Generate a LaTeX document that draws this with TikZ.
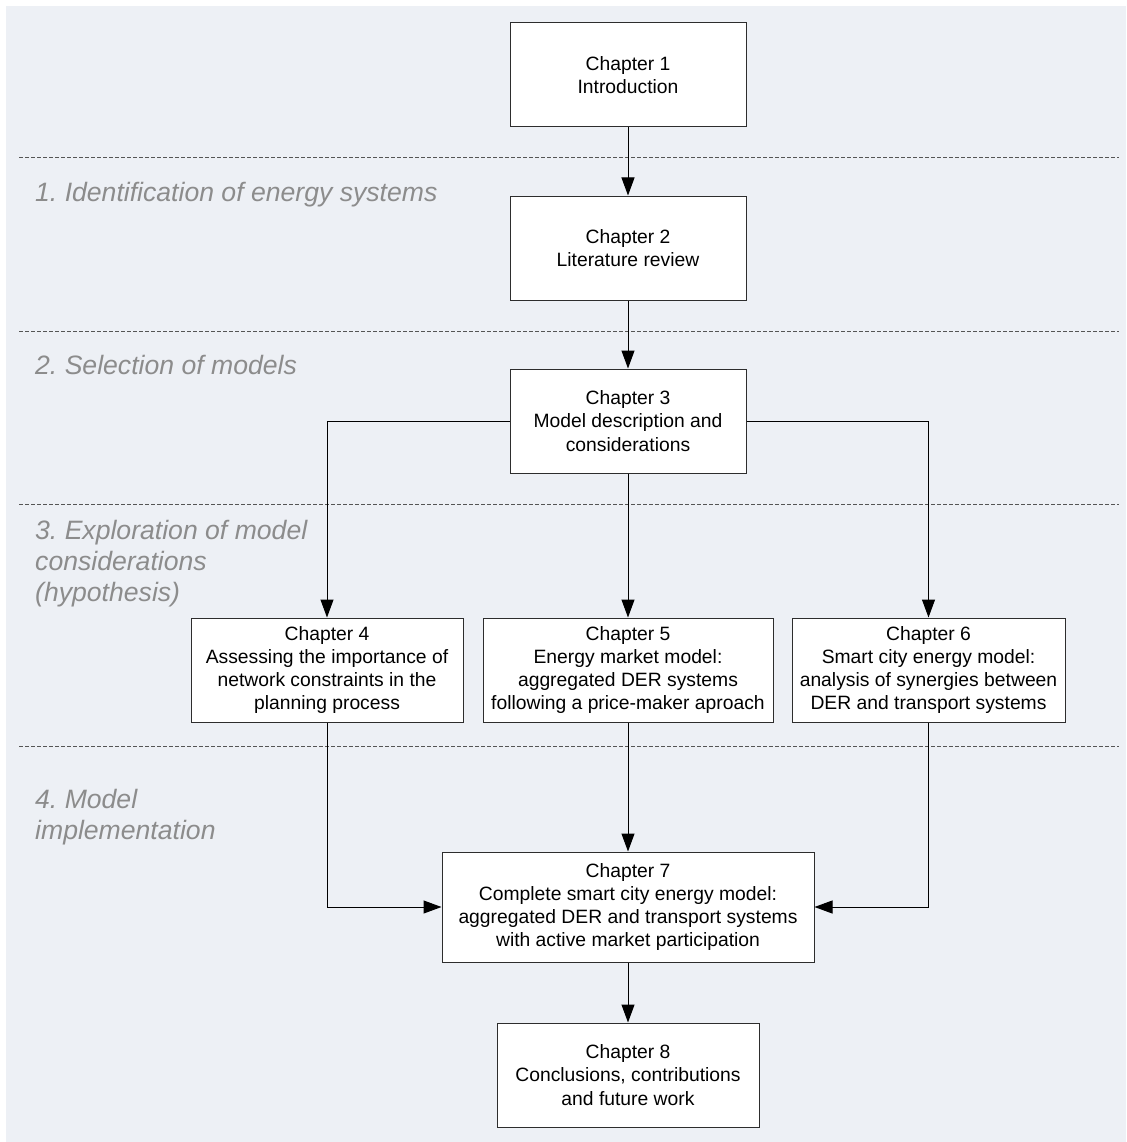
\documentclass[tikz,border=0pt]{standalone}
\usepackage{fontspec}
\setmainfont{Liberation Sans}
\usetikzlibrary{arrows.meta}
\definecolor{bgc}{RGB}{237,240,245}
\definecolor{lblc}{RGB}{140,140,140}
\definecolor{sepc}{RGB}{85,85,85}
\definecolor{edgec}{RGB}{45,45,45}
\frenchspacing
\begin{document}
\begin{tikzpicture}[x=1pt,y=-1pt,
  box/.style={draw=edgec, line width=1pt, fill=white, minimum width=#1, minimum height=104pt,
    inner sep=0pt, align=center, font=\fontsize{19.3}{23.3}\selectfont},
  conn/.style={draw=black, line width=1pt, -{Triangle[length=18pt,width=13pt]}},
  lab/.style={text=lblc, font=\fontsize{26.6}{31}\selectfont\itshape, align=left, inner sep=0pt, anchor=base west},
  sepline/.style={draw=sepc, line width=1pt, dash pattern=on 4pt off 2pt}]
\useasboundingbox (0,0) rectangle (1126,1142);
\fill[bgc] (6,6) rectangle (1126,1142);
% separators
\foreach \yy in {158,331,504,746} {\draw[sepline] (19,\yy) -- (1119,\yy);}
% phase labels (base anchor = baseline of last line)
\node[lab] (l1) at (35,201) {1. Identification of energy systems};
\node[lab] (l2) at (35,374) {2. Selection of models};
\node[lab] (l3) at (35,601) {3. Exploration of model\\considerations\\(hypothesis)};
\node[lab] (l4) at (35,839) {4. Model\\implementation};
% boxes
\node[box=236pt] (b1) at (628,75) {Chapter 1\\Introduction};
\node[box=236pt] (b2) at (628,248) {Chapter 2\\Literature review};
\node[box=236pt] (b3) at (628,421) {Chapter 3\\Model description and\\considerations};
\node[box=272pt] (b4) at (327,670) {Chapter 4\\Assessing the importance of\\network constraints in the\\planning process};
\node[box=290pt] (b5) at (628,670) {Chapter 5\\Energy market model:\\aggregated DER systems\\following a price-maker aproach};
\node[box=273pt] (b6) at (928.5,670) {Chapter 6\\Smart city energy model:\\analysis of synergies between\\DER and transport systems};
\node[box=372pt, minimum height=110pt] (b7) at (628,907) {Chapter 7\\Complete smart city energy model:\\aggregated DER and transport systems\\with active market participation};
\node[box=262pt] (b8) at (628,1075) {Chapter 8\\Conclusions, contributions\\and future work};
% connectors
\draw[conn] (b1) -- (b2);
\draw[conn] (b2) -- (b3);
\draw[conn] (b3.west) -| (b4.north);
\draw[conn] (b3) -- (b5);
\draw[conn] (b3.east) -| (b6.north);
\draw[conn] (b4.south) |- (b7.west);
\draw[conn] (b5) -- (b7);
\draw[conn] (b6.south) |- (b7.east);
\draw[conn] (b7) -- (b8);
\end{tikzpicture}
\end{document}
